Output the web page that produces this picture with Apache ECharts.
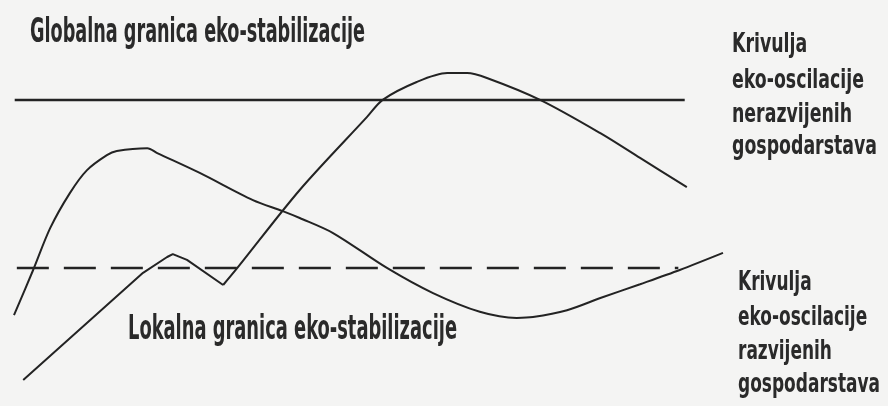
<!DOCTYPE html>
<html>
<head>
<meta charset="utf-8">
<script src="https://cdn.jsdelivr.net/npm/echarts@6/dist/echarts.min.js"></script>
<style>
  html, body { margin: 0; background: #f4f4f3; }
  #chart { width: 888px; height: 406px; }
</style>
</head>
<body>
<div id="chart"></div>
<script>
// both axes run 0..100 (hidden), y up
const globalLimit = [[0.1, 75.4], [94.6, 75.4]];
const localLimit = [[0.4, 34.0], [93.7, 34.0]];

// krivulja A: rani vrh, pad ispod lokalne granice, blagi porast
const curveA = [
  [0.0, 22.4], [2.7, 33.5], [5.1, 43.8], [7.9, 52.5], [10.3, 58.1], [13.1, 61.8],
  [14.5, 62.8], [18.8, 63.5], [20.2, 62.3], [26.2, 57.4], [33.7, 50.7], [37.9, 48.0],
  [40.3, 46.3], [45.0, 42.6], [52.6, 34.0], [59.1, 27.8], [65.7, 23.2], [70.9, 21.7],
  [73.2, 21.9], [78.0, 23.6], [82.7, 26.6], [88.3, 30.0], [93.9, 33.5], [100, 37.7]
];

// krivulja B: ravni uspon s malim zubom, zatim val iznad globalne granice
const curveBRise = [
  [1.3, 6.4], [18.2, 32.8], [21.6, 36.7], [22.4, 37.4], [24.4, 36.0], [29.5, 29.8]
];
const curveBWave = [
  [29.5, 29.8], [31.5, 34.0], [40.3, 53.2], [49.8, 71.2], [52.0, 75.4], [56.8, 79.8],
  [61.1, 82.0], [63.9, 82.0], [66.7, 80.8], [74.2, 75.4], [82.7, 67.2], [88.3, 61.1],
  [94.9, 53.9]
];

const globalText = 'Globalna granica eko-stabilizacije';
const localText = 'Lokalna granica eko-stabilizacije';
const undevelopedLines = ['Krivulja', 'eko-oscilacije', 'nerazvijenih', 'gospodarstava'];
const developedLines = ['Krivulja', 'eko-oscilacije', 'razvijenih', 'gospodarstava'];

const ink = '#232323';
const measure = document.createElement('canvas').getContext('2d');

function fontOf(size) {
  return 'bold ' + size + 'px "Liberation Sans Narrow", "DejaVu Sans Condensed", "Liberation Sans", sans-serif';
}

function squeeze(text, size, width) {
  measure.font = fontOf(size);
  return width / measure.measureText(text).width;
}

function textItem(text, left, midY, size, sx) {
  return {
    type: 'text',
    x: left,
    y: midY,
    scaleX: sx,
    silent: true,
    style: {
      text: text,
      font: fontOf(size),
      fill: '#2a2a2a',
      textAlign: 'left',
      textVerticalAlign: 'middle'
    }
  };
}

function block(lines, left, mids, size, width) {
  const sx = squeeze(lines[3], size, width);
  return lines.map((t, i) => textItem(t, left, mids[i], size, sx));
}

const graphics = [
  textItem(globalText, 30, 33, 34, squeeze(globalText, 34, 335)),
  textItem(localText, 128, 330, 34, squeeze(localText, 34, 329)),
  ...block(undevelopedLines, 732, [44.5, 81, 115, 147], 27, 145),
  ...block(developedLines, 738, [283, 318, 352, 385], 27, 142)
];

function lineSeries(data, opts) {
  return Object.assign({
    type: 'line',
    data: data,
    symbol: 'none',
    silent: true,
    lineStyle: { color: ink, width: 2 }
  }, opts);
}

const chart = echarts.init(document.getElementById('chart'), null, { renderer: 'canvas' });
chart.setOption({
  backgroundColor: '#f4f4f3',
  animation: false,
  grid: { left: 14, right: 165, top: 0, bottom: 0 },
  xAxis: { type: 'value', min: 0, max: 100, show: false },
  yAxis: { type: 'value', min: 0, max: 100, show: false },
  series: [
    lineSeries(globalLimit, { lineStyle: { color: ink, width: 2.5 } }),
    lineSeries(localLimit, { lineStyle: { color: ink, width: 2.5, type: [32, 15] } }),
    lineSeries(curveA, { smooth: 0.3 }),
    lineSeries(curveBRise, {}),
    lineSeries(curveBWave, { smooth: 0.3 })
  ],
  graphic: graphics
});

window.addEventListener('resize', () => chart.resize());
</script>
</body>
</html>
